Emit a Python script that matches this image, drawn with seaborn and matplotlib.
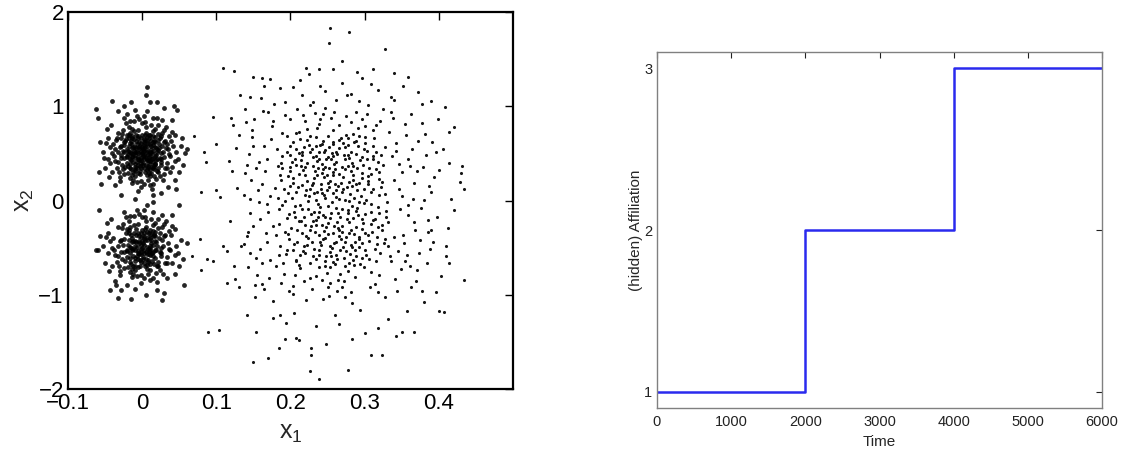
import matplotlib
matplotlib.use("Agg")
import matplotlib.pyplot as plt
import seaborn as sns
import pandas as pd

# ---------------- data (read/estimated from the picture) ----------------
upper_pts = [
    (0.000,0.50),(0.005,0.45),(-0.004,0.55),(0.010,0.52),(-0.010,0.48),(0.002,0.62),(-0.006,0.38),(0.014,0.41),(-0.013,0.60),(0.008,0.35),
    (-0.002,0.66),(0.017,0.57),(-0.017,0.44),(0.004,0.30),(-0.008,0.70),(0.012,0.64),(-0.015,0.33),(0.019,0.48),(-0.019,0.53),(0.001,0.40),
    (0.007,0.58),(-0.005,0.46),(0.011,0.47),(-0.011,0.65),(0.003,0.53),(-0.001,0.35),(0.015,0.68),(-0.016,0.39),(0.009,0.43),(-0.009,0.57),
    (0.006,0.67),(-0.003,0.31),(0.013,0.36),(-0.012,0.41),(0.018,0.62),(-0.018,0.66),(0.002,0.44),(-0.007,0.51),(0.010,0.60),(-0.014,0.56),
    (0.004,0.70),(-0.004,0.62),(0.016,0.33),(-0.020,0.47),(0.008,0.49),(-0.010,0.36),(0.000,0.57),(0.012,0.55),(-0.006,0.44),(0.005,0.38),
    (0.020,0.52),(-0.002,0.49),(0.014,0.45),(-0.015,0.50),(0.007,0.32),(-0.008,0.63),(0.003,0.60),(-0.012,0.30),(0.011,0.69),(-0.001,0.43),
    (0.017,0.39),(-0.017,0.61),(0.006,0.54),(-0.005,0.68),(0.009,0.29),(-0.011,0.53),(0.001,0.47),(0.013,0.50),(-0.003,0.58),(0.019,0.43),
    (-0.019,0.37),(0.004,0.64),(-0.009,0.45),(0.015,0.59),(-0.014,0.68),(0.008,0.42),(-0.007,0.34),(0.002,0.56),(0.010,0.39),(-0.013,0.46),
    (0.025,0.50),(-0.025,0.45),(0.030,0.62),(-0.028,0.58),(0.022,0.30),(-0.024,0.28),(0.033,0.40),(-0.032,0.52),(0.027,0.72),(-0.026,0.75),
    (0.035,0.55),(-0.036,0.42),(0.021,0.80),(-0.022,0.82),(0.028,0.22),(-0.030,0.25),(0.038,0.47),(-0.039,0.60),(0.024,0.66),(-0.021,0.70),
    (0.031,0.34),(-0.034,0.35),(0.026,0.44),(-0.027,0.38),(0.036,0.68),(-0.033,0.72),(0.023,0.56),(-0.023,0.63),(0.029,0.28),(-0.029,0.66),
    (0.040,0.36),(-0.041,0.50),(0.012,0.80),(-0.011,0.84),(0.005,0.78),(-0.004,0.86),(0.008,0.22),(-0.007,0.20),(0.015,0.18),(-0.016,0.24),
    (0.000,0.82),(0.002,0.18),(0.018,0.76),(-0.018,0.78),(0.010,0.26),(-0.012,0.22),(0.003,0.90),(-0.002,0.14),(0.020,0.88),(-0.020,0.92),
    (0.032,0.78),(-0.031,0.30),(0.034,0.60),(-0.037,0.55),(0.025,0.38),(-0.024,0.52),(0.042,0.58),(-0.043,0.40),(0.030,0.46),(-0.028,0.48),
    (0.016,0.26),(-0.014,0.76),(0.022,0.64),(-0.026,0.33),(0.037,0.30),(-0.035,0.64),(0.007,0.95),(-0.009,0.96),(0.013,0.12),(-0.005,0.10),
    (0.045,0.70),(-0.046,0.66),(0.048,0.44),(-0.050,0.34),(0.052,0.58),(-0.053,0.52),(0.044,0.22),(-0.045,0.25),(0.040,0.85),(-0.042,0.80),
    (0.055,0.38),(-0.057,0.62),(0.050,0.30),(-0.048,0.76),(0.030,0.98),(-0.032,0.95),(0.020,1.05),(-0.015,1.04),(0.005,1.12),(0.010,1.04),
    (-0.025,1.00),(0.035,0.14),(-0.036,0.16),(0.046,0.12),(-0.052,0.45),(0.058,0.50),(-0.060,0.88),(-0.062,0.97),(0.047,0.96),(0.043,1.00),
    (-0.040,1.06),(0.007,1.20),(0.025,0.08),(-0.028,0.06),(0.060,0.55),(-0.058,0.30),(0.054,0.66),(-0.055,0.18),(0.015,0.06),(-0.010,0.02),
    (0.003,0.48),(-0.012,0.57),(0.018,0.39),(-0.006,0.29),(0.009,0.66),(-0.021,0.46),(0.014,0.53),(-0.001,0.61),(0.022,0.71),(-0.016,0.35),
    (0.006,0.43),(-0.009,0.52),(0.016,0.63),(-0.003,0.37),(0.024,0.45),(-0.018,0.69),(0.001,0.55),(-0.013,0.27),(0.011,0.33),(-0.024,0.59),
    (0.019,0.56),(-0.007,0.41),(0.005,0.72),(-0.015,0.63),(0.013,0.44),(-0.002,0.53),(0.027,0.58),(-0.020,0.40),(0.008,0.37),(-0.011,0.74),
    (0.002,0.34),(-0.017,0.51),(0.021,0.35),(-0.005,0.66),(0.010,0.50),(-0.026,0.53),(0.015,0.74),(-0.009,0.31),(0.004,0.58),(-0.014,0.47),
    (0.023,0.60),(-0.004,0.43),(0.007,0.27),(-0.022,0.65),(0.012,0.58),(-0.008,0.56),(0.017,0.47),(0.000,0.69),(-0.019,0.29),(0.026,0.41),
    (0.009,0.46),(-0.010,0.39),(0.003,0.65),(-0.016,0.72),(0.020,0.31),(-0.001,0.45),(0.014,0.62),(-0.023,0.36),(0.006,0.51),(-0.006,0.75),
    (0.028,0.52),(-0.012,0.49),(0.011,0.42),(-0.028,0.45),(0.001,0.38),(-0.004,0.57),(0.018,0.67),(-0.018,0.58),(0.008,0.61),(-0.009,0.26),
    (0.016,0.37),(-0.013,0.66),(0.004,0.47),(-0.021,0.55),(0.025,0.68),(-0.002,0.40),(0.012,0.29),(-0.007,0.60),(0.020,0.44),(-0.025,0.62),
    (0.001,0.52),(-0.015,0.43),(0.009,0.70),(-0.010,0.33),(0.022,0.54),(-0.005,0.50),(0.014,0.35),(-0.019,0.49),(0.006,0.63),(-0.003,0.28),
    (0.031,0.63),(-0.030,0.57),(0.033,0.34),(-0.032,0.41),(0.029,0.75),(-0.027,0.71),(0.036,0.49),(-0.038,0.47),(0.032,0.56),(-0.034,0.66),
    (0.019,0.23),(-0.014,0.19),(0.027,0.85),(-0.024,0.88),(0.004,0.83),(-0.007,0.90),(0.010,0.16),(-0.002,0.21),(0.039,0.63),(-0.044,0.57),
    (0.014,0.88),(-0.017,0.84),(0.024,0.26),(-0.030,0.21),(0.040,0.73),(-0.040,0.30),(0.044,0.42),(-0.049,0.61),(0.046,0.52),(-0.046,0.44),
]

lower_pts = [
    (0.000,-0.50),(0.005,-0.55),(-0.004,-0.45),(0.010,-0.48),(-0.010,-0.52),(0.002,-0.38),(-0.006,-0.62),(0.014,-0.59),(-0.013,-0.40),(0.008,-0.65),
    (-0.002,-0.34),(0.017,-0.43),(-0.017,-0.56),(0.004,-0.70),(-0.008,-0.30),(0.012,-0.36),(-0.015,-0.67),(0.019,-0.52),(-0.019,-0.47),(0.001,-0.60),
    (0.007,-0.42),(-0.005,-0.54),(0.011,-0.53),(-0.011,-0.35),(0.003,-0.47),(-0.001,-0.65),(0.015,-0.32),(-0.016,-0.61),(0.009,-0.57),(-0.009,-0.43),
    (0.006,-0.33),(-0.003,-0.69),(0.013,-0.64),(-0.012,-0.59),(0.018,-0.38),(-0.018,-0.34),(0.002,-0.56),(-0.007,-0.49),(0.010,-0.40),(-0.014,-0.44),
    (0.004,-0.30),(-0.004,-0.38),(0.016,-0.67),(-0.020,-0.53),(0.008,-0.51),(-0.010,-0.64),(0.000,-0.43),(0.012,-0.45),(-0.006,-0.56),(0.005,-0.62),
    (0.020,-0.48),(-0.002,-0.51),(0.014,-0.55),(-0.015,-0.50),(0.007,-0.68),(-0.008,-0.37),(0.003,-0.40),(-0.012,-0.70),(0.011,-0.31),(-0.001,-0.57),
    (0.025,-0.50),(-0.025,-0.55),(0.030,-0.38),(-0.028,-0.42),(0.022,-0.70),(-0.024,-0.72),(0.033,-0.60),(-0.032,-0.48),(0.027,-0.28),(-0.026,-0.25),
    (0.035,-0.45),(-0.036,-0.58),(0.021,-0.20),(-0.022,-0.18),(0.028,-0.78),(-0.030,-0.75),(0.038,-0.53),(-0.039,-0.40),(0.024,-0.34),(-0.021,-0.30),
    (0.031,-0.66),(-0.034,-0.65),(0.026,-0.56),(-0.027,-0.62),(0.036,-0.32),(-0.033,-0.28),(0.012,-0.20),(-0.011,-0.16),(0.005,-0.22),(-0.004,-0.14),
    (0.008,-0.78),(-0.007,-0.80),(0.015,-0.82),(-0.016,-0.76),(0.000,-0.18),(0.002,-0.82),(0.018,-0.24),(-0.018,-0.22),(0.010,-0.74),(-0.012,-0.78),
    (0.003,-0.10),(-0.002,-0.88),(0.020,-0.86),(-0.020,-0.90),(0.032,-0.22),(-0.031,-0.70),(0.040,-0.66),(-0.041,-0.50),(0.007,-0.05),(-0.009,-0.94),
    (0.045,-0.30),(-0.046,-0.34),(0.048,-0.56),(-0.050,-0.66),(0.052,-0.42),(-0.053,-0.48),(0.044,-0.78),(-0.045,-0.75),(0.040,-0.15),(-0.042,-0.20),
    (0.055,-0.62),(-0.057,-0.38),(0.050,-0.70),(-0.048,-0.24),(0.030,-0.98),(-0.032,-1.03),(0.020,-0.95),(-0.015,-1.05),(0.005,-1.00),(0.027,-1.06),
    (-0.060,-0.52),(-0.062,-0.53),(0.056,-0.90),(-0.058,-0.10),(0.050,-0.05),(-0.028,-0.95),(0.060,-0.45),(-0.044,-0.95),(0.015,-0.02),(-0.035,-0.90),
    (0.003,-0.52),(-0.012,-0.43),(0.018,-0.61),(-0.006,-0.71),(0.009,-0.34),(-0.021,-0.54),(0.014,-0.47),(-0.001,-0.39),(0.022,-0.29),(-0.016,-0.65),
    (0.006,-0.57),(-0.009,-0.48),(0.016,-0.37),(-0.003,-0.63),(0.024,-0.55),(-0.018,-0.31),(0.001,-0.45),(-0.013,-0.73),(0.011,-0.67),(-0.024,-0.41),
    (0.019,-0.44),(-0.007,-0.59),(0.005,-0.28),(-0.015,-0.37),(0.013,-0.56),(-0.002,-0.47),(0.027,-0.42),(-0.020,-0.60),(0.008,-0.63),(-0.011,-0.26),
    (0.002,-0.66),(-0.017,-0.49),(0.021,-0.65),(-0.005,-0.34),(0.010,-0.50),(-0.026,-0.47),(0.015,-0.26),(-0.009,-0.69),(0.004,-0.42),(-0.014,-0.53),
    (0.023,-0.40),(-0.004,-0.57),(0.007,-0.73),(-0.022,-0.35),(0.012,-0.42),(-0.008,-0.44),(0.017,-0.53),(0.000,-0.31),(-0.019,-0.71),(0.026,-0.59),
    (0.009,-0.54),(-0.010,-0.61),(0.003,-0.35),(-0.016,-0.28),(0.020,-0.69),(-0.001,-0.55),(0.014,-0.38),(-0.023,-0.64),(0.006,-0.49),(-0.006,-0.25),
    (0.028,-0.48),(-0.012,-0.51),(0.011,-0.58),(-0.028,-0.55),(0.001,-0.62),(-0.004,-0.43),(0.018,-0.33),(-0.018,-0.42),(0.008,-0.39),(-0.009,-0.74),
    (0.031,-0.37),(-0.030,-0.43),(0.033,-0.66),(-0.032,-0.59),(0.029,-0.25),(-0.027,-0.29),(0.036,-0.51),(-0.038,-0.53),(0.019,-0.77),(-0.014,-0.81),
    (0.027,-0.15),(-0.024,-0.12),(0.004,-0.17),(-0.007,-0.10),(0.010,-0.84),(-0.002,-0.79),(0.039,-0.37),(-0.044,-0.43),(0.024,-0.74),(-0.030,-0.79),
    (0.040,-0.27),(-0.040,-0.70),(0.044,-0.58),(-0.049,-0.39),(0.046,-0.48),(-0.046,-0.56),(0.014,-0.12),(-0.017,-0.16),(0.034,-0.82),(-0.036,-0.85),
]

wide_core_pts = [
    (0.214,0.37),(0.287,-0.52),(0.243,0.08),(0.301,0.61),(0.196,-0.19),(0.262,-0.44),(0.229,0.55),(0.318,-0.07),(0.253,0.21),(0.207,-0.63),
    (0.276,0.14),(0.188,0.47),(0.324,-0.31),(0.239,-0.12),(0.268,0.66),(0.221,-0.38),(0.296,0.29),(0.247,-0.69),(0.183,0.03),(0.312,0.44),
    (0.259,-0.27),(0.233,0.31),(0.291,-0.15),(0.204,0.19),(0.281,0.52),(0.217,-0.54),(0.327,0.07),(0.244,0.63),(0.272,-0.61),(0.193,-0.33),
    (0.237,-0.04),(0.306,-0.43),(0.226,0.12),(0.285,0.37),(0.251,-0.36),(0.199,0.58),(0.319,0.23),(0.265,0.02),(0.212,-0.22),(0.294,-0.67),
    (0.248,0.44),(0.279,-0.23),(0.186,-0.48),(0.308,0.09),(0.231,-0.59),(0.257,0.27),(0.202,0.41),(0.321,-0.56),(0.269,-0.09),(0.241,0.18),
    (0.292,0.68),(0.219,0.06),(0.275,-0.39),(0.197,0.26),(0.315,0.51),(0.246,-0.18),(0.263,0.49),(0.228,-0.27),(0.299,-0.03),(0.184,-0.09),
    (0.254,-0.55),(0.289,0.17),(0.209,-0.44),(0.236,0.42),(0.311,-0.21),(0.273,0.33),(0.191,0.12),(0.325,0.38),(0.222,0.64),(0.266,-0.31),
    (0.283,-0.06),(0.205,-0.12),(0.249,0.11),(0.302,-0.58),(0.232,0.24),(0.278,0.59),(0.216,0.48),(0.258,-0.65),(0.329,-0.17),(0.189,0.34),
    (0.241,-0.47),(0.297,0.46),(0.224,-0.01),(0.264,0.15),(0.201,-0.29),(0.317,-0.39),(0.252,0.57),(0.286,-0.36),(0.235,-0.21),(0.271,0.25),
    (0.211,0.28),(0.304,0.21),(0.245,-0.32),(0.281,-0.47),(0.194,-0.57),(0.259,0.39),(0.227,-0.66),(0.313,0.66),(0.267,-0.17),(0.238,0.52),
    (0.295,0.05),(0.218,-0.17),(0.256,-0.02),(0.187,0.22),(0.309,-0.12),(0.274,0.44),(0.242,0.29),(0.203,0.62),(0.288,-0.28),(0.261,-0.58),
    (0.229,0.16),(0.322,0.14),(0.198,-0.41),(0.277,-0.13),(0.251,0.68),(0.215,0.52),(0.293,-0.49),(0.239,-0.53),(0.270,0.09),(0.306,0.35),
    (0.260,0.33),(0.192,-0.01),(0.284,0.27),(0.223,-0.47),(0.316,-0.64),(0.247,0.03),(0.208,0.09),(0.298,-0.24),(0.234,0.67),(0.279,-0.66),
    (0.266,0.56),(0.213,-0.58),(0.290,0.11),(0.244,-0.41),(0.200,0.31),(0.326,-0.45),(0.255,-0.13),(0.231,0.37),(0.303,0.53),(0.185,-0.25),
    (0.273,-0.44),(0.236,0.09),(0.310,-0.33),(0.258,0.47),(0.220,0.27),(0.286,0.62),(0.195,0.52),(0.248,-0.59),(0.300,-0.14),(0.262,0.04),
    (0.226,-0.31),(0.280,0.07),(0.206,-0.06),(0.253,-0.48),(0.318,0.41),(0.240,0.59),(0.292,-0.41),(0.214,0.43),(0.269,0.36),(0.330,-0.02),
    (0.245,0.25),(0.288,-0.59),(0.232,-0.12),(0.305,0.17),(0.190,-0.66),(0.263,-0.23),(0.219,0.36),(0.277,0.48),(0.250,-0.06),(0.314,-0.51),
    (0.283,0.40),(0.210,0.14),(0.257,0.62),(0.238,-0.37),(0.296,0.24),(0.203,-0.52),(0.271,-0.49),(0.225,0.59),(0.320,0.30),(0.247,0.36),
    (0.265,-0.38),(0.230,-0.22),(0.301,-0.34),(0.197,0.08),(0.285,-0.19),(0.252,0.14),(0.216,-0.35),(0.311,0.58),(0.243,-0.26),(0.275,0.69),
    (0.234,0.47),(0.298,0.38),(0.260,-0.67),(0.208,0.55),(0.279,0.20),(0.224,-0.09),(0.323,-0.26),(0.256,0.50),(0.290,-0.08),(0.187,0.40),
    (0.223,0.21),(0.297,-0.45),(0.251,-0.24),(0.274,0.57),(0.206,0.44),(0.318,-0.28),(0.238,-0.71),(0.286,0.03),(0.262,0.41),(0.213,-0.05),
    (0.305,0.26),(0.245,0.52),(0.279,-0.34),(0.229,-0.44),(0.268,0.19),(0.197,-0.36),(0.322,0.48),(0.256,-0.50),(0.291,0.58),(0.235,0.01),
    (0.284,-0.63),(0.218,0.57),(0.261,-0.08),(0.309,-0.04),(0.242,0.39),(0.202,0.03),(0.275,-0.54),(0.249,0.27),(0.327,-0.41),(0.233,-0.33),
    (0.294,0.43),(0.220,-0.26),(0.266,0.64),(0.239,-0.58),(0.312,0.12),(0.257,0.08),(0.205,-0.46),(0.281,0.31),(0.247,-0.40),(0.300,-0.52),
    (0.231,0.46),(0.270,-0.27),(0.215,0.16),(0.289,-0.11),(0.252,0.35),(0.320,-0.13),(0.241,0.12),(0.277,0.66),(0.209,-0.31),(0.263,-0.62),
    (0.296,-0.30),(0.227,0.68),(0.258,-0.34),(0.283,0.15),(0.199,0.36),(0.315,0.33),(0.244,-0.15),(0.272,0.48),(0.236,0.27),(0.306,-0.62),
    (0.253,-0.71),(0.217,0.32),(0.288,0.49),(0.232,-0.51),(0.265,0.28),(0.324,0.20),(0.246,0.54),(0.279,-0.01),(0.211,-0.68),(0.299,0.12),
    (0.240,-0.07),(0.274,-0.70),(0.225,0.05),(0.292,-0.39),(0.257,0.60),(0.203,0.24),(0.311,0.47),(0.268,-0.41),(0.234,0.58),(0.285,0.22),
    (0.248,-0.28),(0.302,0.01),(0.219,-0.56),(0.264,-0.13),(0.237,0.35),(0.280,-0.57),(0.213,0.65),(0.317,-0.46),(0.255,0.44),(0.290,0.34),
    (0.228,-0.14),(0.271,0.12),(0.206,-0.18),(0.296,-0.61),(0.243,0.60),(0.259,-0.45),(0.222,0.40),(0.308,0.28),(0.276,-0.20),(0.250,0.19),
    (0.287,-0.44),(0.234,-0.62),(0.262,0.51),(0.301,0.67),(0.216,-0.09),(0.245,0.06),(0.278,0.37),(0.230,0.19),(0.314,-0.20),(0.254,-0.19),
    (0.267,-0.52),(0.198,-0.14),(0.293,0.19),(0.239,0.44),(0.282,-0.31),(0.224,-0.40),(0.305,-0.37),(0.258,0.30),(0.212,0.50),(0.273,0.01),
    (0.246,-0.64),(0.289,0.63),(0.221,0.11),(0.260,0.17),(0.319,0.06),(0.235,-0.26),(0.277,-0.10),(0.208,0.38),(0.297,-0.20),(0.251,0.46),
    (0.283,-0.49),(0.226,0.52),(0.264,-0.29),(0.303,0.44),(0.240,-0.44),(0.271,0.61),(0.214,-0.22),(0.292,-0.02),(0.255,-0.59),(0.232,0.08),
    (0.309,-0.25),(0.244,0.33),(0.279,0.45),(0.218,-0.48),(0.261,0.11),(0.299,0.55),(0.237,-0.17),(0.270,-0.33),(0.200,0.15),(0.286,-0.68),
]

wide_mid_pts = [
    (0.157,0.41),(0.352,-0.37),(0.171,-0.82),(0.364,0.55),(0.146,-0.13),(0.338,0.88),(0.175,0.79),(0.371,-0.74),(0.161,0.18),(0.346,0.12),
    (0.233,0.93),(0.281,-0.97),(0.148,0.67),(0.385,-0.21),(0.262,1.07),(0.203,-0.91),(0.357,-0.58),(0.168,-0.44),(0.379,0.36),(0.219,0.84),
    (0.341,-0.83),(0.153,-0.61),(0.296,0.86),(0.178,1.02),(0.367,0.19),(0.244,-1.04),(0.139,0.29),(0.333,0.73),(0.191,-0.78),(0.392,-0.44),
    (0.272,-0.85),(0.164,0.58),(0.348,-0.09),(0.209,0.97),(0.381,0.71),(0.142,-0.38),(0.314,-0.89),(0.255,0.88),(0.176,-0.27),(0.359,0.44),
    (0.188,0.72),(0.336,-0.64),(0.158,-0.02),(0.374,-0.56),(0.227,-0.82),(0.305,1.01),(0.144,0.49),(0.389,0.09),(0.266,0.80),(0.173,-0.63),
    (0.351,0.30),(0.216,1.12),(0.161,-0.89),(0.328,-1.02),(0.291,0.77),(0.137,0.06),(0.368,-0.31),(0.239,0.81),(0.182,0.55),(0.396,0.51),
    (0.309,-0.76),(0.151,0.87),(0.343,0.61),(0.198,-0.96),(0.376,-0.08),(0.254,-0.87),(0.166,0.31),(0.331,-0.48),(0.223,0.76),(0.362,-0.92),
    (0.143,-0.71),(0.287,-0.81),(0.355,0.81),(0.179,0.13),(0.247,0.98),(0.384,-0.66),(0.206,-0.79),(0.339,0.22),(0.159,-0.51),(0.275,0.90),
    (0.365,0.02),(0.192,0.91),(0.321,0.84),(0.147,0.22),(0.283,-1.09),(0.170,-0.12),(0.349,-0.73),(0.229,-0.94),(0.393,0.25),(0.258,0.75),
    (0.181,-0.37),(0.337,0.47),(0.155,-0.79),(0.300,0.79),(0.213,-0.72),(0.372,0.63),(0.140,0.83),(0.267,-0.78),(0.358,-0.15),(0.196,0.68),
    (0.318,-0.97),(0.169,0.44),(0.386,-0.33),(0.236,0.77),(0.150,-0.27),(0.345,-0.54),(0.276,1.12),(0.185,-0.58),(0.361,0.37),(0.211,0.73),
    (0.299,-0.71),(0.163,0.95),(0.378,0.82),(0.249,-0.77),(0.145,-0.56),(0.327,0.57),(0.200,0.86),(0.353,-0.45),(0.174,0.65),(0.289,0.94),
    (0.388,-0.51),(0.221,-1.06),(0.156,0.11),(0.340,1.07),(0.270,-0.92),(0.183,0.37),(0.369,-0.85),(0.242,-0.84),(0.138,-0.46),(0.312,0.75),
    (0.195,-0.53),(0.356,0.70),(0.167,-0.35),(0.320,-0.79),(0.259,0.94),(0.149,0.58),(0.380,0.01),(0.217,0.91),(0.332,-0.23),(0.177,0.84),
    (0.344,-0.96),(0.159,-0.20),(0.292,1.06),(0.204,-0.99),(0.370,0.31),(0.141,0.38),(0.263,-0.96),(0.335,0.94),(0.189,-0.05),(0.397,-0.17),
    (0.226,1.01),(0.354,-0.64),(0.172,0.05),(0.307,-0.92),(0.152,-0.90),(0.383,0.48),(0.250,-0.92),(0.180,-0.70),(0.346,0.39),(0.285,0.71),
    (0.162,-0.66),(0.329,-0.11),(0.207,0.72),(0.363,0.92),(0.278,-0.75),(0.145,0.02),(0.340,-0.39),(0.234,-0.80),(0.375,-0.42),(0.193,1.05),
    (0.303,0.92),(0.154,0.35),(0.366,-0.23),(0.240,0.87),(0.187,-0.87),(0.350,0.05),(0.170,0.94),(0.391,0.62),(0.264,-0.84),(0.218,-0.85),
    (0.334,-0.59),(0.143,-0.33),(0.281,0.83),(0.199,0.48),(0.377,-0.96),(0.252,-1.01),(0.164,-0.94),(0.325,0.97),(0.359,-0.05),(0.230,1.05),
    (0.186,0.27),(0.315,0.80),(0.148,0.75),(0.361,-0.69),(0.273,-1.02),(0.208,-0.64),(0.387,0.15),(0.244,0.92),(0.168,-0.04),(0.342,0.53),
    (0.132,1.12),(0.186,1.19),(0.270,1.25),(0.318,1.17),(0.352,1.22),(0.213,1.28),(0.246,1.16),(0.297,1.30),(0.160,1.09),(0.336,1.10),
    (0.377,1.02),(0.399,0.87),(0.406,0.55),(0.416,0.02),(0.412,-0.29),(0.403,-0.80),(0.396,-0.97),(0.380,-1.08),(0.357,-1.17),(0.331,-1.26),
    (0.294,-1.16),(0.260,-1.22),(0.235,-1.33),(0.205,-1.19),(0.176,-1.07),(0.152,-1.02),(0.131,-0.92),(0.124,-0.70),(0.118,-0.22),(0.128,0.13),
    (0.117,0.42),(0.131,0.70),(0.139,0.97),(0.203,1.20),(0.282,1.13),(0.309,1.24),(0.240,1.22),(0.372,1.15),(0.389,-0.31),(0.401,0.32),
    (0.266,-1.31),(0.318,-1.35),(0.194,-1.30),(0.212,-1.48),(0.283,-1.47),(0.248,-1.52),(0.342,-1.44),(0.269,1.48),(0.221,1.41),(0.290,1.36),
    (0.134,-0.48),(0.121,0.31),(0.414,-0.66),(0.408,0.99),(0.358,1.31),(0.165,1.22),(0.186,-1.22),(0.300,-1.41),(0.145,1.10),(0.420,-0.10),
]

outlier_pts = [
    (0.254,1.83),(0.279,1.79),(0.252,1.67),(0.327,1.61),(0.109,1.41),(0.124,1.37),(0.149,1.31),(0.161,1.30),(0.173,1.29),(0.312,1.40),
    (0.339,1.35),(0.238,1.40),(0.258,1.40),(0.225,1.34),(0.389,1.06),(0.420,0.78),(0.414,0.73),(0.432,0.37),(0.430,0.29),(0.428,0.20),
    (0.434,0.12),(0.414,0.40),(0.434,-0.84),(0.400,-1.17),(0.407,-1.18),(0.410,-0.48),(0.410,-0.59),(0.366,-1.40),(0.350,-1.39),(0.324,-1.64),
    (0.308,-1.64),(0.278,-1.80),(0.239,-1.89),(0.226,-1.81),(0.228,-1.64),(0.228,-1.57),(0.184,-1.57),(0.170,-1.67),(0.150,-1.71),(0.089,-1.39),
    (0.103,-1.37),(0.154,-1.39),(0.192,-1.47),(0.207,-1.46),(0.141,-1.21),(0.176,-1.25),
    (0.080,0.09),(0.095,0.89),(0.100,0.60),(0.083,0.52),(0.086,0.41),(0.070,0.68),(0.078,-0.41),(0.088,-0.62),(0.080,-0.74),(0.096,-0.64),
    (0.067,-0.59),(0.100,0.11),(0.105,0.04),(0.114,-0.54),(0.114,-0.88),(0.125,-0.83),(0.127,0.56),(0.122,0.80),(0.120,0.88),(0.109,-0.48),
]

scatter_xticks = [-0.1, 0.0, 0.1, 0.2, 0.3, 0.4]
scatter_xticklabels = ["\u22120.1", "0", "0.1", "0.2", "0.3", "0.4"]
scatter_yticks = [-2, -1, 0, 1, 2]
scatter_yticklabels = ["\u22122", "\u22121", "0", "1", "2"]

step_time = [0, 2000, 4000, 6000]
step_affiliation = [1, 2, 3, 3]
step_xticks = [0, 1000, 2000, 3000, 4000, 5000, 6000]
step_yticks = [1, 2, 3]

# ---------------- figure ----------------
sns.set_theme(style="white")
plt.rcParams["font.family"] = ["Liberation Sans", "DejaVu Sans"]
plt.rcParams["mathtext.fontset"] = "custom"
plt.rcParams["mathtext.rm"] = "Liberation Sans"

fig = plt.figure(figsize=(11.31, 4.57), dpi=100)
ax1 = fig.add_axes([0.0601, 0.1488, 0.3934, 0.8249])
ax2 = fig.add_axes([0.5809, 0.1072, 0.3935, 0.7790])

def to_df(pts, group):
    return pd.DataFrame({"x1": [p[0] for p in pts], "x2": [p[1] for p in pts], "group": group})

df_dense = pd.concat([to_df(upper_pts, "upper"), to_df(lower_pts, "lower")], ignore_index=True)
df_sparse = pd.concat([to_df(wide_core_pts, "core"), to_df(wide_mid_pts, "mid"),
                       to_df(outlier_pts, "out")], ignore_index=True)

sns.scatterplot(data=df_dense, x="x1", y="x2", ax=ax1, color="black", s=12,
                linewidth=0, alpha=0.85, legend=False)
sns.scatterplot(data=df_sparse, x="x1", y="x2", ax=ax1, color="#151515", s=5,
                linewidth=0, legend=False)

ax1.set_xlim(-0.1, 0.5)
ax1.set_ylim(-2, 2)
ax1.set_xticks(scatter_xticks)
ax1.set_xticklabels(scatter_xticklabels)
ax1.set_yticks(scatter_yticks)
ax1.set_yticklabels(scatter_yticklabels)
ax1.tick_params(direction="in", length=6, width=1, top=True, right=True,
                labelsize=16, colors="black", pad=3)
for sp in ax1.spines.values():
    sp.set_color("black")
    sp.set_linewidth(1.6)
ax1.set_xlabel(r"$\mathrm{x_1}$", fontsize=18, labelpad=5)
ax1.set_ylabel(r"$\mathrm{x_2}$", fontsize=18, labelpad=2)

df_step = pd.DataFrame({"Time": step_time, "Affiliation": step_affiliation})
sns.lineplot(data=df_step, x="Time", y="Affiliation", ax=ax2, color="#2a2aee",
             linewidth=1.8, drawstyle="steps-post", estimator=None)
ax2.set_xlim(0, 6000)
ax2.set_ylim(0.9, 3.1)
ax2.set_xticks(step_xticks)
ax2.set_yticks(step_yticks)
ax2.tick_params(direction="in", length=4, width=0.8, top=True, right=True,
                labelsize=10.5, colors="#222222", pad=5)
ax2.tick_params(axis="y", pad=3.5)
for sp in ax2.spines.values():
    sp.set_color("#808080")
    sp.set_linewidth(1.0)
ax2.set_xlabel("Time", fontsize=11, labelpad=4)
ax2.set_ylabel("(hidden) Affiliation", fontsize=11, labelpad=1)

fig.savefig("out.png", dpi=100)
